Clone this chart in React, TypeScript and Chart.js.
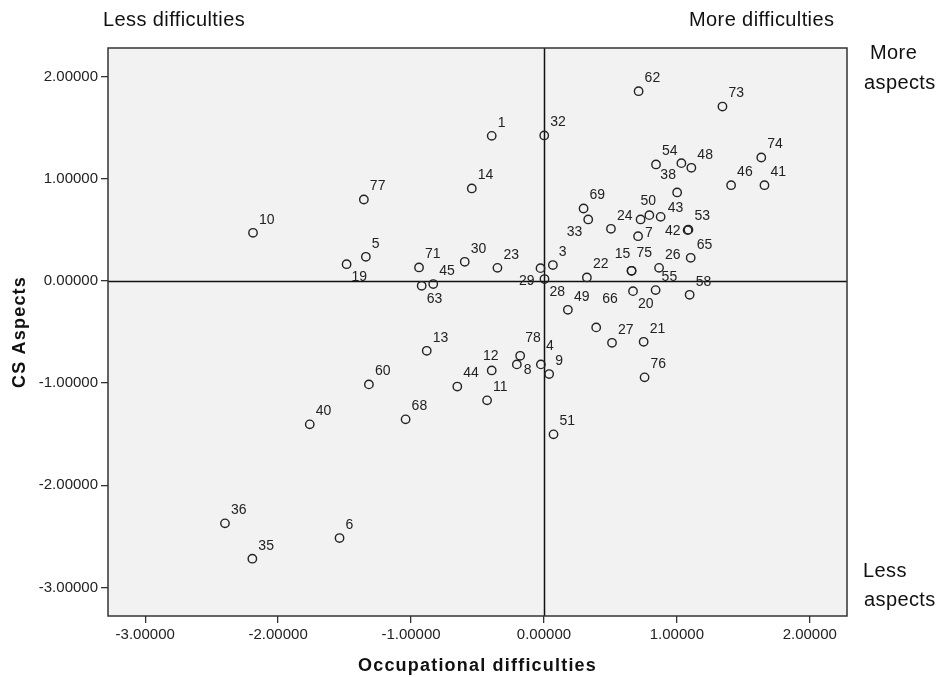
import React, { useEffect, useRef } from 'react';
import { Chart, registerables } from 'chart.js';

Chart.register(...registerables);

// ---- Data ----
const caseLabels = [
  '1', '3', '4', '5', '6', '7', '8', '9', '10', '11', '12', '13', '14', '15', '19', '20',
  '21', '22', '23', '24', '26', '27', '28', '29', '30', '32', '33', '35', '36', '38', '40',
  '41', '42', '43', '44', '45', '46', '48', '49', '50', '51', '53', '54', '55', '58', '60',
  '62', '63', '65', '66', '68', '69', '71', '73', '74', '75', '76', '77', '78', '', '',
];
const occupationalDifficulties = [
  -0.393, 0.067, -0.023, -1.34, -1.538, 0.708, -0.204, 0.039, -2.189, -0.428, -0.393, -0.882, -0.543, 0.659, -1.485, 0.67,
  0.75, 0.323, -0.35, 0.504, 0.866, 0.512, 0.004, -0.026, -0.596, 0.002, 0.333, -2.194, -2.4, 1.002, -1.762,
  1.659, 1.081, 0.878, -0.652, -0.833, 1.408, 1.109, 0.18, 0.793, 0.072, 1.087, 0.843, 0.84, 1.096, -1.317,
  0.712, -0.92, 1.104, 0.393, -1.041, 0.298, -0.94, 1.343, 1.635, 0.659, 0.757, -1.355, -0.179, 1.034, 0.727,
];
const csAspects = [
  1.42, 0.155, -0.817, 0.236, -2.517, 0.438, -0.817, -0.912, 0.471, -1.169, -0.876, -0.684, 0.905, 0.099, 0.164, -0.1,
  -0.596, 0.034, 0.128, 0.51, 0.128, -0.606, 0.018, 0.125, 0.187, 1.424, 0.602, -2.719, -2.373, 0.866, -1.404,
  0.937, 0.497, 0.627, -1.034, -0.031, 0.937, 1.107, -0.283, 0.644, -1.502, 0.502, 1.14, -0.09, -0.136, -1.013,
  1.857, -0.048, 0.226, -0.455, -1.355, 0.709, 0.132, 1.707, 1.208, 0.099, -0.944, 0.797, -0.733, 1.153, 0.602,
];
// where each case label sits relative to its marker
const labelPlacement = [
  'ur', 'ur', 'ur2', 'ur', 'ur', 'r', 'rd', 'ur', 'ur', 'ur', 't', 'ur', 'ur', 'tl', 'lr', 'lr',
  'ur', 'ur', 'ur', 'ur', 'ur', 'ur', 'lr', 'll', 'ur', 'ur', 'll', 'ur', 'ur', 'tl', 'ur',
  'ur', 'l', 'ur1', 'ur', 'ur', 'ur', 'ur', 'ur', 't', 'ur', 'ur', 'ur', 'ur', 'ur', 'ur',
  'ur', 'lr', 'ur', 'uh', 'ur', 'ur', 'ur', 'ur', 'ur', 'ur2', 'ur', 'ur', 'ur2', 'ur', 'ur',
];
const xTickValues = [-3, -2, -1, 0, 1, 2];
const yTickValues = [-3, -2, -1, 0, 1, 2];
const axisMin = -3.28;
const axisMax = 2.28;
const xTitle = 'Occupational difficulties';
const yTitle = 'CS Aspects';

// ---- Styling helpers ----
const FONT = '"Liberation Sans", Arial, sans-serif';
const placements: Record<string, [CanvasTextAlign, number, number]> = {
  ur: ['left', 6, -13],
  ur1: ['left', 7, -9],
  ur2: ['left', 5, -18],
  uh: ['left', 6, -28],
  ul: ['right', -6, -13],
  lr: ['left', 5, 13],
  ll: ['right', -6, 13],
  r: ['left', 7, -3],
  rd: ['left', 7, 6],
  l: ['right', -7, 1],
  t: ['center', -1, -14],
  tl: ['center', -9, -17],
};

const framePlugin = {
  id: 'frame',
  beforeDraw(chart: any) {
    const { ctx, chartArea: a } = chart;
    ctx.save();
    ctx.fillStyle = '#f2f2f2';
    ctx.fillRect(a.left, a.top, a.right - a.left, a.bottom - a.top);
    ctx.restore();
  },
  beforeDatasetsDraw(chart: any) {
    const { ctx, chartArea: a, scales } = chart;
    ctx.save();
    ctx.strokeStyle = '#111';
    ctx.lineWidth = 1.5;
    const x0 = Math.round(scales.x.getPixelForValue(0)) + 0.5;
    const y0 = Math.round(scales.y.getPixelForValue(0)) + 0.5;
    ctx.beginPath();
    ctx.moveTo(x0, a.top);
    ctx.lineTo(x0, a.bottom);
    ctx.moveTo(a.left, y0);
    ctx.lineTo(a.right, y0);
    ctx.stroke();
    ctx.restore();
  },
  afterDraw(chart: any) {
    const { ctx, chartArea: a } = chart;
    ctx.save();
    ctx.strokeStyle = '#333';
    ctx.lineWidth = 1.5;
    ctx.strokeRect(a.left, a.top, a.right - a.left, a.bottom - a.top);

    // axis titles
    ctx.fillStyle = '#111';
    ctx.font = `bold 18px ${FONT}`;
    (ctx as any).letterSpacing = '1.2px';
    ctx.textBaseline = 'alphabetic';
    ctx.textAlign = 'center';
    ctx.fillText(xTitle, (a.left + a.right) / 2, 671);
    ctx.save();
    ctx.translate(25, (a.top + a.bottom) / 2);
    ctx.rotate(-Math.PI / 2);
    ctx.fillText(yTitle, 0, 0);
    ctx.restore();

    // corner annotations
    ctx.font = `20px ${FONT}`;
    (ctx as any).letterSpacing = '0.4px';
    ctx.textAlign = 'left';
    ctx.fillText('Less difficulties', 103, 26);
    ctx.fillText('More difficulties', 689, 26);
    ctx.fillText('More', 870, 59);
    ctx.fillText('aspects', 864, 89);
    ctx.fillText('Less', 863, 577);
    ctx.fillText('aspects', 864, 606);
    (ctx as any).letterSpacing = '0px';
    ctx.restore();
  },
};

const labelPlugin = {
  id: 'caseLabels',
  afterDatasetsDraw(chart: any) {
    const { ctx } = chart;
    const meta = chart.getDatasetMeta(0);
    ctx.save();
    ctx.fillStyle = '#222';
    ctx.font = `14px ${FONT}`;
    ctx.textBaseline = 'middle';
    meta.data.forEach((pt: any, i: number) => {
      const text = caseLabels[i];
      if (!text) return;
      const p = placements[labelPlacement[i]] || placements.ur;
      ctx.textAlign = p[0];
      ctx.fillText(text, pt.x + p[1], pt.y + p[2]);
    });
    ctx.restore();
  },
};

export default function App() {
  const ref = useRef<HTMLCanvasElement | null>(null);

  useEffect(() => {
    if (!ref.current) return;
    const points = occupationalDifficulties.map((x, i) => ({ x, y: csAspects[i] }));
    const chart = new Chart(ref.current, {
      type: 'scatter',
      data: {
        datasets: [
          {
            data: points,
            pointStyle: 'circle',
            pointRadius: 4.2,
            pointHoverRadius: 4.2,
            borderWidth: 1.4,
            borderColor: '#222',
            backgroundColor: 'rgba(0,0,0,0)',
          },
        ],
      },
      options: {
        animation: false,
        responsive: false,
        maintainAspectRatio: false,
        layout: { padding: { top: 48, right: 92, left: 0, bottom: 0 } },
        plugins: {
          legend: { display: false },
          tooltip: { enabled: false },
        },
        scales: {
          x: {
            type: 'linear',
            min: axisMin,
            max: axisMax,
            afterBuildTicks: (s: any) => {
              s.ticks = xTickValues.map((v) => ({ value: v }));
            },
            afterFit: (s: any) => {
              s.height = 61;
            },
            ticks: {
              callback: (v: any) => Number(v).toFixed(5),
              font: { family: FONT, size: 15 },
              color: '#222',
              padding: 3,
              maxRotation: 0,
            },
            grid: {
              drawOnChartArea: false,
              drawTicks: true,
              tickLength: 7,
              color: '#333',
              lineWidth: 1.3,
            },
            border: { display: false },
            title: { display: false },
          },
          y: {
            type: 'linear',
            min: axisMin,
            max: axisMax,
            afterBuildTicks: (s: any) => {
              s.ticks = yTickValues.map((v) => ({ value: v }));
            },
            afterFit: (s: any) => {
              s.width = 108;
            },
            ticks: {
              callback: (v: any) => Number(v).toFixed(5),
              font: { family: FONT, size: 15 },
              color: '#222',
              padding: 3,
            },
            grid: {
              drawOnChartArea: false,
              drawTicks: true,
              tickLength: 7,
              color: '#333',
              lineWidth: 1.3,
            },
            border: { display: false },
            title: { display: false },
          },
        },
      },
      plugins: [framePlugin, labelPlugin],
    });
    return () => chart.destroy();
  }, []);

  return (
    <div style={{ position: 'absolute', left: 0, top: 0, width: 939, height: 677, background: '#fff' }}>
      <canvas ref={ref} width={939} height={677} style={{ width: 939, height: 677, display: 'block' }} />
    </div>
  );
}
